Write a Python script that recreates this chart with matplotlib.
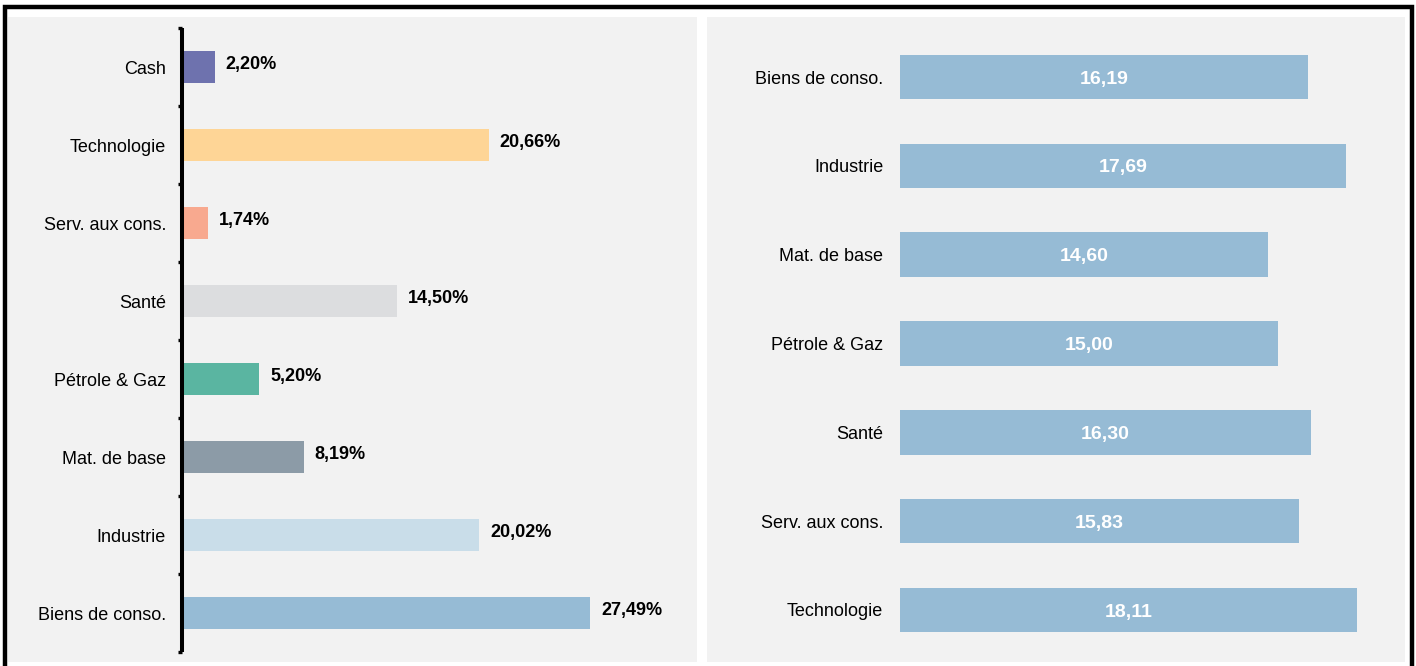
import matplotlib
matplotlib.use("Agg")
import matplotlib.pyplot as plt
from matplotlib.patches import Rectangle

plt.rcParams['font.family'] = ['Liberation Sans', 'DejaVu Sans']

# left chart: sector weights, listed bottom to top
left_cats = ["Biens de conso.", "Industrie", "Mat. de base", "Pétrole & Gaz",
             "Santé", "Serv. aux cons.", "Technologie", "Cash"]
left_vals = [27.49, 20.02, 8.19, 5.20, 14.50, 1.74, 20.66, 2.20]
left_cols = ["#96bbd5", "#c9dde9", "#8c9ba7", "#5ab5a1",
             "#dcdddf", "#f8a98f", "#fed596", "#6e72ae"]

# right chart: values per sector, listed bottom to top
right_cats = ["Technologie", "Serv. aux cons.", "Santé", "Pétrole & Gaz",
              "Mat. de base", "Industrie", "Biens de conso."]
right_vals = [18.11, 15.83, 16.30, 15.00, 14.60, 17.69, 16.19]

W, H = 1416, 666
fig = plt.figure(figsize=(W / 100, H / 100), dpi=100)
fig.patch.set_facecolor("white")

def px(x0, y0, x1, y1):
    # pixel box (top-left origin) -> figure fraction rect
    return [x0 / W, 1 - y1 / H, (x1 - x0) / W, (y1 - y0) / H]

bg = "#f2f2f2"
for box in [(8, 17, 697, 662), (707, 17, 1405, 662)]:
    r = px(*box)
    fig.patches.append(Rectangle((r[0], r[1]), r[2], r[3], transform=fig.transFigure,
                                 facecolor=bg, edgecolor="none", zorder=-2))
# outer black frame (bottom edge falls off the canvas)
r = px(5, 7, 1411.5, 676)
fig.patches.append(Rectangle((r[0], r[1]), r[2], r[3], transform=fig.transFigure,
                             facecolor="none", edgecolor="black", linewidth=3.2, zorder=-1))

# ---- left axes
ax1 = fig.add_axes(px(182, 28, 690, 652))
ax1.patch.set_alpha(0)
y1 = list(range(len(left_cats)))
ax1.barh(y1, left_vals, height=0.41, color=left_cols)
ax1.set_xlim(0, 508 / 14.84)
ax1.set_ylim(-0.5, len(left_cats) - 0.5)
for s in ["top", "right", "bottom"]:
    ax1.spines[s].set_visible(False)
ax1.spines["left"].set_linewidth(2.9)
ax1.spines["left"].set_capstyle("butt")
ax1.set_xticks([])
ax1.set_yticks(y1)
ax1.set_yticklabels(left_cats, fontsize=13)
ax1.tick_params(axis="y", which="major", length=0, pad=11.5)
ax1.set_yticks([i - 0.5 for i in range(len(left_cats) + 1)], minor=True)
ax1.tick_params(axis="y", which="minor", length=3, width=2.4, color="black")
for yy, v in zip(y1, left_vals):
    ax1.annotate(f"{v:.2f}%".replace(".", ","), (v, yy), xytext=(8, 1.5),
                 textcoords="offset points", ha="left", va="center",
                 fontsize=13, fontweight="bold", color="black")

# ---- right axes
ax2 = fig.add_axes(px(900, 32.6, 1380, 654.4))
ax2.patch.set_alpha(0)
y2 = list(range(len(right_cats)))
ax2.barh(y2, right_vals, height=0.5, color="#96bbd5")
ax2.set_xlim(0, 480 / 25.23)
ax2.set_ylim(-0.5, len(right_cats) - 0.5)
for s in ax2.spines.values():
    s.set_visible(False)
ax2.set_xticks([])
ax2.set_yticks(y2)
ax2.set_yticklabels(right_cats, fontsize=13)
ax2.tick_params(axis="y", length=0, pad=12)
for yy, v in zip(y2, right_vals):
    ax2.annotate(f"{v:.2f}".replace(".", ","), (v / 2, yy), xytext=(0, -1.5),
                 textcoords="offset points", ha="center", va="center",
                 fontsize=14, fontweight="bold", color="white")

fig.savefig("out.png", dpi=100, facecolor=fig.get_facecolor())
